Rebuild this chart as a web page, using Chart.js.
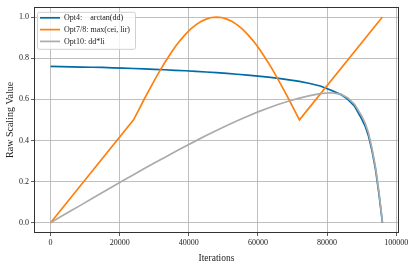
<!DOCTYPE html>
<html>
<head>
<meta charset="utf-8">
<script src="https://cdn.jsdelivr.net/npm/chart.js@4.4.1/dist/chart.umd.min.js"></script>
<style>
  html, body { margin: 0; padding: 0; background: #fff; }
  #wrap { width: 415px; height: 264px; }
</style>
</head>
<body>
<div id="wrap"><canvas id="chart" width="415" height="264"></canvas></div>
<script>
// ------------------------------
// Data
// ------------------------------

// Opt4 and Opt10 share these iterations
const iterations = [
  0, 3000, 6000, 9000, 12000, 15000, 18000, 21000, 24000, 27000,
  30000, 33000, 36000, 39000, 42000, 45000, 48000, 51000, 54000, 57000,
  60000, 63000, 66000, 69000, 72000, 75000, 78000, 81000, 84000, 86000,
  88000, 90000, 91000, 92000, 93000, 94000, 95000, 96000
];

const opt4 = [
  0.760, 0.759, 0.758, 0.757, 0.756, 0.755, 0.753, 0.752, 0.750, 0.748,
  0.746, 0.744, 0.741, 0.739, 0.736, 0.733, 0.730, 0.726, 0.722, 0.718,
  0.713, 0.708, 0.702, 0.695, 0.687, 0.677, 0.665, 0.645, 0.623, 0.600,
  0.565, 0.505, 0.470, 0.420, 0.350, 0.260, 0.140, 0.000
];

const opt10 = [
  0.000, 0.030, 0.059, 0.088, 0.118, 0.147, 0.176, 0.205, 0.233, 0.262,
  0.290, 0.317, 0.345, 0.372, 0.398, 0.424, 0.449, 0.473, 0.496, 0.518,
  0.539, 0.558, 0.576, 0.592, 0.606, 0.618, 0.628, 0.632, 0.625, 0.607,
  0.575, 0.520, 0.485, 0.435, 0.360, 0.270, 0.150, 0.000
];

// Opt7/8 has its own, denser iterations around the hump
const opt78Iterations = [
  0, 24000, 25500, 27000, 28500, 30000, 31500, 33000, 34500, 36000,
  37500, 39000, 40500, 42000, 43500, 45000, 46500, 48000, 49500, 51000,
  52500, 54000, 55500, 57000, 58500, 60000, 61500, 63000, 64500, 66000,
  67500, 69000, 70500, 72000, 96000
];

const opt78 = [
  0.000, 0.500, 0.549, 0.598, 0.645, 0.691, 0.736, 0.778, 0.817, 0.854,
  0.887, 0.916, 0.941, 0.962, 0.978, 0.990, 0.998, 1.000, 0.998, 0.990,
  0.978, 0.962, 0.941, 0.916, 0.887, 0.854, 0.817, 0.778, 0.736, 0.691,
  0.645, 0.598, 0.549, 0.500, 1.000
];

const seriesLabels = ["Opt4:    arctan(dd)", "Opt7/8: max(cei, lir)", "Opt10: dd*li"];
const seriesColors = ["#006BA4", "#FF800E", "#ABABAB"];

const xTicks = [0, 20000, 40000, 60000, 80000, 100000];
const yTicks = [0.0, 0.2, 0.4, 0.6, 0.8, 1.0];

const FONT = "'Liberation Serif', 'DejaVu Serif', serif";

function points(xs, ys) {
  return xs.map((x, i) => ({ x: x, y: ys[i] }));
}

// ------------------------------
// Frame + legend inside the plot
// ------------------------------

const framePlugin = {
  id: "frame",
  afterDatasetsDraw(chart) {
    const ctx = chart.ctx;
    const a = chart.chartArea;
    ctx.save();
    ctx.strokeStyle = "#333";
    ctx.lineWidth = 1;
    ctx.strokeRect(Math.round(a.left) + 0.5, Math.round(a.top) + 0.5,
      Math.round(a.right - a.left) - 1, Math.round(a.bottom - a.top) - 1);

    // legend box
    const bx = a.left + 3, by = a.top + 5, bw = 98, bh = 37;
    ctx.fillStyle = "rgba(255,255,255,0.8)";
    ctx.strokeStyle = "#d0d0d0";
    ctx.beginPath();
    ctx.roundRect(bx + 0.5, by + 0.5, bw, bh, 2);
    ctx.fill();
    ctx.stroke();

    ctx.font = "8px " + FONT;
    ctx.textBaseline = "middle";
    chart.data.datasets.forEach((ds, i) => {
      const y = by + 6 + i * 11.8;
      ctx.strokeStyle = ds.borderColor;
      ctx.lineWidth = 1.7;
      ctx.beginPath();
      ctx.moveTo(bx + 3, y);
      ctx.lineTo(bx + 23, y);
      ctx.stroke();
      ctx.fillStyle = "#222";
      ctx.fillText(ds.label, bx + 27, y + 0.5);
    });
    ctx.restore();
  }
};

// ------------------------------
// Line Chart
// ------------------------------

const chart = new Chart(document.getElementById("chart"), {
  type: "line",
  data: {
    datasets: [
      { label: seriesLabels[0], data: points(iterations, opt4), borderColor: seriesColors[0], order: 2 },
      { label: seriesLabels[1], data: points(opt78Iterations, opt78), borderColor: seriesColors[1], order: 1 },
      { label: seriesLabels[2], data: points(iterations, opt10), borderColor: seriesColors[2], order: 0 }
    ].map(ds => Object.assign(ds, { borderWidth: 1.7, pointRadius: 0, fill: false, tension: 0 }))
  },
  options: {
    responsive: false,
    animation: false,
    layout: { padding: { left: 4, right: 16, top: 5, bottom: 0 } },
    plugins: { legend: { display: false }, tooltip: { enabled: false } },
    scales: {
      x: {
        type: "linear",
        min: -4800,
        max: 100800,
        afterBuildTicks: s => { s.ticks = xTicks.map(v => ({ value: v })); },
        afterFit: s => { s.height = 31; },
        grid: { color: "#b0b0b0", lineWidth: 0.8, tickColor: "#333", tickLength: 3 },
        border: { display: false },
        ticks: {
          font: { family: FONT, size: 8 }, color: "#222", padding: 2,
          maxRotation: 0, autoSkip: false,
          callback: v => String(v)
        },
        title: { display: true, text: "Iterations", font: { family: FONT, size: 9.5 }, color: "#222", padding: { top: 1, bottom: 0 } }
      },
      y: {
        min: -0.05,
        max: 1.05,
        afterBuildTicks: s => { s.ticks = yTicks.map(v => ({ value: v })); },
        afterFit: s => { s.width = 30; },
        grid: { color: "#b0b0b0", lineWidth: 0.8, tickColor: "#333", tickLength: 3 },
        border: { display: false },
        ticks: {
          font: { family: FONT, size: 8 }, color: "#222", padding: 2,
          callback: v => v.toFixed(1)
        },
        title: { display: true, text: "Raw Scaling Value", font: { family: FONT, size: 10 }, color: "#222", padding: { top: 0, bottom: 0 } }
      }
    }
  },
  plugins: [framePlugin]
});
</script>
</body>
</html>
